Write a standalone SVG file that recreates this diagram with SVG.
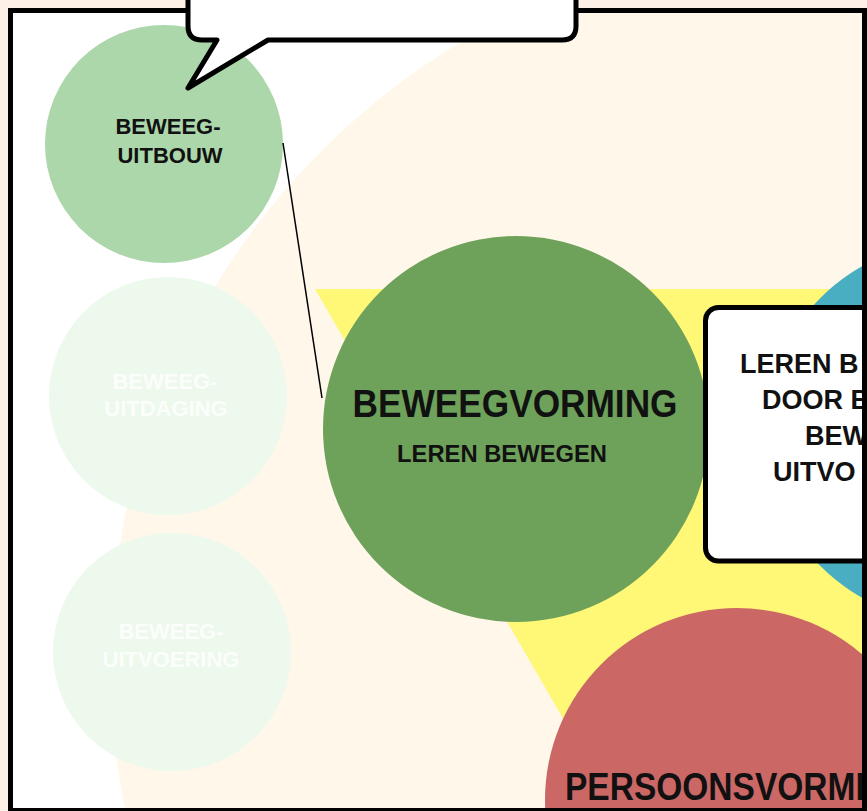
<svg xmlns="http://www.w3.org/2000/svg" width="867" height="811" viewBox="0 0 867 811">
<style>
.t{font-family:"Liberation Sans",Arial,sans-serif;font-weight:bold;fill:#111}
.m{text-anchor:middle}
.s{font-size:22px}
.pale{fill:#fbfefa}
.box{font-size:27px}
</style>
<defs>
<clipPath id="inner"><rect x="13" y="13" width="849" height="795"/></clipPath>
</defs>
<rect width="867" height="811" fill="#fdf1e7"/>
<rect x="10.5" y="10.5" width="854" height="800" fill="#ffffff"/>
<g clip-path="url(#inner)">
  <g id="background">
    <circle cx="833" cy="662" r="723" fill="#fef7ea"/>
    <polygon points="315,289 1157,289 736,1018" fill="#fff776"/>
  </g>
  <g id="beweeg-uitbouw">
    <circle cx="164" cy="144" r="119" fill="#acd7ab"/>
    <text class="t m s" x="168" y="134">BEWEEG-</text>
    <text class="t m s" x="170" y="163">UITBOUW</text>
  </g>
  <g id="beweeg-uitdaging">
    <circle cx="168" cy="396" r="119" fill="#edf9ec"/>
    <text class="t m s pale" x="165" y="389">BEWEEG-</text>
    <text class="t m s pale" x="166" y="416">UITDAGING</text>
  </g>
  <g id="beweeg-uitvoering">
    <circle cx="172" cy="652" r="119" fill="#edf9ec"/>
    <text class="t m s pale" x="171" y="639">BEWEEG-</text>
    <text class="t m s pale" x="171" y="667">UITVOERING</text>
  </g>
  <g id="beweegvorming">
    <circle cx="516" cy="429" r="193" fill="#6ea25a"/>
    <text class="t m" x="515" y="417" font-size="38" textLength="325" lengthAdjust="spacingAndGlyphs">BEWEEGVORMING</text>
    <text class="t m" x="502" y="462" font-size="23" textLength="210" lengthAdjust="spacingAndGlyphs">LEREN BEWEGEN</text>
  </g>
  <g id="blauw">
    <circle cx="955" cy="432" r="190" fill="#4aaec3"/>
  </g>
  <g id="persoonsvorming">
    <circle cx="737" cy="800" r="192" fill="#cb6866"/>
    <text class="t m" x="740" y="800" font-size="38" textLength="350" lengthAdjust="spacingAndGlyphs">PERSOONSVORMING</text>
  </g>
  <g id="connectors">
    <line x1="283" y1="143" x2="322" y2="398" stroke="#000" stroke-width="1.5"/>
  </g>
  <g id="tekstvak">
    <rect x="705.5" y="307.5" width="300" height="253.5" rx="13" fill="#fff" stroke="#000" stroke-width="5"/>
    <text class="t box" x="740" y="373">LEREN B</text>
    <text class="t box" x="762" y="409">DOOR B</text>
    <text class="t box" x="805" y="445">BEW</text>
    <text class="t box" x="773" y="481">UITVO</text>
  </g>
</g>
<rect x="10.5" y="10.5" width="854" height="800" fill="none" stroke="#000" stroke-width="5"/>
<g id="tekstballon">
  <path d="M188,-60 L188,26 Q188,40 202,40 L217,40 L188,88 L268,40 L562,40 Q576,40 576,26 L576,-60 Z" fill="#fff" stroke="#000" stroke-width="5" stroke-linejoin="round"/>
</g>
</svg>
